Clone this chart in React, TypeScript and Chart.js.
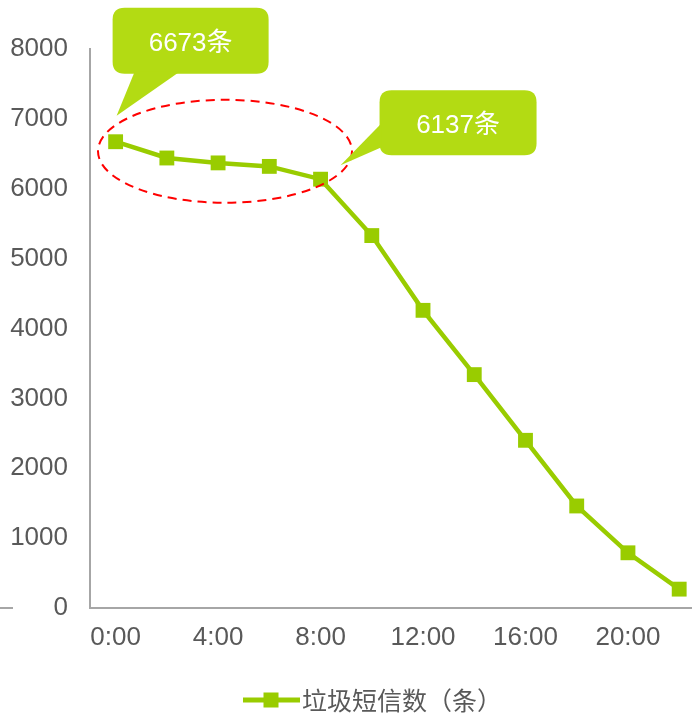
import React, { useEffect, useRef } from "react";
import { Chart, registerables } from "chart.js";

Chart.register(...registerables);

// ---- data ----
const hours: number[] = [0, 2, 4, 6, 8, 10, 12, 14, 16, 18, 20, 22];
const spamCounts: number[] = [6673, 6440, 6370, 6320, 6137, 5330, 4260, 3340, 2400, 1460, 790, 270];
const xTickHours: number[] = [0, 4, 8, 12, 16, 20];
const yTickValues: number[] = [0, 1000, 2000, 3000, 4000, 5000, 6000, 7000, 8000];
const seriesName = "垃圾短信数（条）";
const calloutIndices: number[] = [0, 4];
const calloutTexts: string[] = ["6673条", "6137条"];

const LINE_COLOR = "#99CC00";
const CALLOUT_COLOR = "#B3DB13";
const AXIS_COLOR = "#A6A6A6";
const TEXT_COLOR = "#595959";
const FONT_FAMILY = '"Liberation Sans", "Noto Sans CJK SC", sans-serif';

function roundRect(ctx: CanvasRenderingContext2D, x: number, y: number, w: number, h: number, r: number) {
  ctx.beginPath();
  ctx.moveTo(x + r, y);
  ctx.lineTo(x + w - r, y);
  ctx.quadraticCurveTo(x + w, y, x + w, y + r);
  ctx.lineTo(x + w, y + h - r);
  ctx.quadraticCurveTo(x + w, y + h, x + w - r, y + h);
  ctx.lineTo(x + r, y + h);
  ctx.quadraticCurveTo(x, y + h, x, y + h - r);
  ctx.lineTo(x, y + r);
  ctx.quadraticCurveTo(x, y, x + r, y);
  ctx.closePath();
}

const annotationPlugin = {
  id: "annotations",
  afterDraw(chart: any) {
    const ctx: CanvasRenderingContext2D = chart.ctx;
    const xs = chart.scales.x;
    const ys = chart.scales.y;
    const area = chart.chartArea;
    ctx.save();

    // small stray axis stub at far left
    ctx.strokeStyle = AXIS_COLOR;
    ctx.lineWidth = 2;
    ctx.beginPath();
    ctx.moveTo(0, area.bottom);
    ctx.lineTo(13, area.bottom);
    ctx.stroke();

    // dashed red ellipse around the first five points
    const cx = xs.getPixelForValue(4.27);
    const cy = ys.getPixelForValue(6536);
    ctx.setLineDash([9, 6]);
    ctx.strokeStyle = "#FF0000";
    ctx.lineWidth = 2;
    ctx.beginPath();
    ctx.ellipse(cx, cy, 127, 51.5, 0, 0, Math.PI * 2);
    ctx.stroke();
    ctx.setLineDash([]);

    // callouts
    const drawBubble = (
      box: { x: number; y: number; w: number; h: number },
      tri: [number, number][],
      text: string
    ) => {
      ctx.fillStyle = CALLOUT_COLOR;
      roundRect(ctx, box.x, box.y, box.w, box.h, 12);
      ctx.fill();
      ctx.beginPath();
      ctx.moveTo(tri[0][0], tri[0][1]);
      ctx.lineTo(tri[1][0], tri[1][1]);
      ctx.lineTo(tri[2][0], tri[2][1]);
      ctx.closePath();
      ctx.fill();
      ctx.fillStyle = "#FFFFFF";
      ctx.font = `26px ${FONT_FAMILY}`;
      ctx.textAlign = "center";
      ctx.textBaseline = "middle";
      ctx.fillText(text, box.x + box.w / 2, box.y + box.h / 2 + 3);
    };

    // callout 1 (first point)
    {
      const i = calloutIndices[0];
      const px = xs.getPixelForValue(hours[i]);
      const py = ys.getPixelForValue(spamCounts[i]);
      const box = { x: px - 3, y: py - 134, w: 156, h: 66 };
      drawBubble(
        box,
        [
          [px + 19, box.y + box.h - 2],
          [px + 64, box.y + box.h - 2],
          [px + 1, py - 26],
        ],
        calloutTexts[0]
      );
    }
    // callout 2 (fifth point)
    {
      const i = calloutIndices[1];
      const px = xs.getPixelForValue(hours[i]);
      const py = ys.getPixelForValue(spamCounts[i]);
      const box = { x: px + 59, y: py - 89, w: 157, h: 65 };
      drawBubble(
        box,
        [
          [box.x + 2, py - 56],
          [box.x + 2, py - 32],
          [px + 20, py - 14],
        ],
        calloutTexts[1]
      );
    }

    // custom legend (line + square marker + text)
    const ly = 700;
    ctx.strokeStyle = LINE_COLOR;
    ctx.lineWidth = 5;
    ctx.beginPath();
    ctx.moveTo(243, ly);
    ctx.lineTo(300, ly);
    ctx.stroke();
    ctx.fillStyle = LINE_COLOR;
    ctx.fillRect(271 - 7.5, ly - 7.5, 15, 15);
    ctx.fillStyle = TEXT_COLOR;
    ctx.font = `25px "Noto Sans CJK SC", sans-serif`;
    ctx.textAlign = "left";
    ctx.textBaseline = "middle";
    ctx.fillText(seriesName, 302, ly);

    ctx.restore();
  },
};

export default function App() {
  const canvasRef = useRef<HTMLCanvasElement | null>(null);

  useEffect(() => {
    document.body.style.margin = "0";
    const canvas = canvasRef.current;
    if (!canvas) return;
    const chart = new Chart(canvas, {
      type: "line",
      data: {
        datasets: [
          {
            label: seriesName,
            data: hours.map((h, i) => ({ x: h, y: spamCounts[i] })),
            borderColor: LINE_COLOR,
            backgroundColor: LINE_COLOR,
            borderWidth: 4.5,
            pointStyle: "rect",
            pointRadius: 10.5,
            pointBorderWidth: 0,
            pointBackgroundColor: LINE_COLOR,
            tension: 0,
            fill: false,
            clip: false,
          },
        ],
      },
      options: {
        animation: false,
        responsive: false,
        maintainAspectRatio: false,
        devicePixelRatio: 1,
        layout: { autoPadding: false, padding: { top: 49, left: 0, right: 0, bottom: 48 } },
        plugins: {
          legend: { display: false },
          tooltip: { enabled: false },
        },
        scales: {
          x: {
            type: "linear",
            min: -1,
            max: 22.5,
            grid: { display: false, drawTicks: false },
            border: { display: true, color: AXIS_COLOR, width: 2 },
            afterBuildTicks: (scale: any) => {
              scale.ticks = xTickHours.map((v) => ({ value: v }));
            },
            afterFit: (scale: any) => {
              scale.height = 60;
              scale.paddingLeft = 0;
              scale.paddingRight = 0;
            },
            ticks: {
              autoSkip: false,
              maxRotation: 0,
              padding: 14,
              color: TEXT_COLOR,
              font: { family: FONT_FAMILY, size: 26 },
              callback: (v: any) => `${v}:00`,
            },
          },
          y: {
            min: 0,
            max: 8000,
            grid: { display: false, drawTicks: false },
            border: { display: true, color: AXIS_COLOR, width: 2 },
            afterBuildTicks: (scale: any) => {
              scale.ticks = yTickValues.map((v) => ({ value: v }));
            },
            afterFit: (scale: any) => {
              scale.width = 90;
            },
            ticks: {
              padding: 22,
              color: TEXT_COLOR,
              font: { family: FONT_FAMILY, size: 26 },
              callback: (v: any) => `${v}`,
            },
          },
        },
      },
      plugins: [annotationPlugin],
    });
    return () => chart.destroy();
  }, []);

  return (
    <div style={{ position: "fixed", left: 0, top: 0, width: 692, height: 716, background: "#fff", overflow: "hidden" }}>
      <canvas ref={canvasRef} width={692} height={716} style={{ width: 692, height: 716, display: "block" }} />
    </div>
  );
}
